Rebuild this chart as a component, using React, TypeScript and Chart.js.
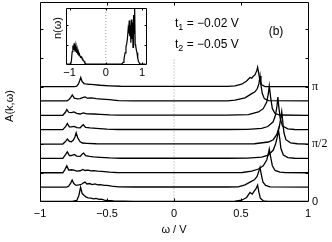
import React, { useEffect, useRef } from "react";
import { Chart, registerables } from "chart.js";
Chart.register(...registerables);

// ---- spectral functions A(k,ω), one per k (k = 0, π/8, ..., π) ----
const omegaK0 = [-1, -0.76, -0.725, -0.71, -0.697, -0.685, -0.67, -0.655, -0.64, -0.62, -0.6, -0.58, -0.56, -0.54, -0.52, -0.5, -0.45, -0.3, 0.4, 0.455, 0.505, 0.542, 0.567, 0.584, 0.6, 0.612, 0.624, 0.634, 0.644, 0.666, 0.7, 1];
const ampK0 = [0, 0, 0.07, 0.42, 1.0, 0.55, 0.42, 0.3, 0.25, 0.24, 0.18, 0.21, 0.15, 0.17, 0.1, 0.07, 0.04, 0.01, 0.01, 0.03, 0.09, 0.28, 0.63, 0.51, 0.74, 0.9, 1.14, 0.63, 0.23, 0.05, 0.01, 0];

const omegaK1 = [-1, -0.8, -0.785, -0.77, -0.76, -0.748, -0.73, -0.71, -0.69, -0.675, -0.664, -0.65, -0.63, -0.61, -0.59, -0.57, -0.55, -0.52, -0.5, -0.465, -0.415, -0.3, 0.4, 0.48, 0.53, 0.567, 0.6, 0.62, 0.634, 0.642, 0.652, 0.664, 0.684, 0.717, 1];
const ampK1 = [0, 0, 0.08, 0.3, 0.5, 0.25, 0.12, 0.15, 0.2, 0.3, 0.35, 0.22, 0.25, 0.18, 0.22, 0.16, 0.18, 0.12, 0.12, 0.07, 0.02, 0.01, 0.01, 0.02, 0.16, 0.35, 0.51, 0.74, 1.13, 1.37, 0.86, 0.35, 0.12, 0.02, 0];

const omegaK2 = [-1, -0.83, -0.815, -0.8, -0.786, -0.766, -0.746, -0.726, -0.7, -0.68, -0.664, -0.64, -0.62, -0.6, -0.57, -0.54, -0.48, -0.43, -0.3, 0.4, 0.51, 0.58, 0.63, 0.666, 0.692, 0.704, 0.711, 0.721, 0.734, 0.754, 0.79, 0.83, 1];
const ampK2 = [0, 0, 0.2, 0.48, 0.19, 0.21, 0.19, 0.12, 0.14, 0.23, 0.16, 0.18, 0.13, 0.15, 0.12, 0.1, 0.05, 0.02, 0.01, 0.01, 0.02, 0.12, 0.26, 0.49, 0.88, 1.34, 1.65, 1.11, 0.49, 0.16, 0.05, 0.01, 0];

const omegaK3 = [-1, -0.83, -0.808, -0.796, -0.781, -0.765, -0.744, -0.726, -0.7, -0.684, -0.674, -0.66, -0.63, -0.6, -0.55, -0.48, -0.4, 0.4, 0.55, 0.654, 0.704, 0.741, 0.759, 0.771, 0.779, 0.789, 0.798, 0.816, 0.85, 0.9, 1];
const ampK3 = [0, 0, 0.28, 0.46, 0.19, 0.2, 0.28, 0.16, 0.14, 0.3, 0.37, 0.19, 0.14, 0.1, 0.07, 0.03, 0.01, 0.01, 0.02, 0.09, 0.23, 0.58, 1.04, 1.5, 2.0, 1.39, 0.69, 0.23, 0.05, 0.01, 0];

const omegaK4 = [-1, -0.83, -0.808, -0.796, -0.781, -0.766, -0.751, -0.739, -0.73, -0.718, -0.7, -0.684, -0.65, -0.58, -0.5, 0.5, 0.6, 0.704, 0.741, 0.766, 0.784, 0.795, 0.804, 0.811, 0.82, 0.835, 0.87, 0.92, 1];
const ampK4 = [0, 0, 0.19, 0.35, 0.19, 0.16, 0.28, 0.49, 0.78, 0.42, 0.16, 0.07, 0.05, 0.02, 0.01, 0.01, 0.02, 0.14, 0.3, 0.65, 1.1, 1.7, 2.25, 1.6, 0.8, 0.3, 0.08, 0.02, 0];

const omegaK5 = [-1, -0.83, -0.808, -0.796, -0.781, -0.765, -0.744, -0.726, -0.7, -0.686, -0.677, -0.66, -0.627, -0.58, -0.5, -0.42, 0.4, 0.55, 0.654, 0.7, 0.74, 0.757, 0.768, 0.775, 0.782, 0.792, 0.81, 0.85, 0.9, 1];
const ampK5 = [0, 0, 0.23, 0.43, 0.19, 0.19, 0.23, 0.14, 0.13, 0.27, 0.34, 0.16, 0.12, 0.09, 0.04, 0.01, 0.01, 0.02, 0.09, 0.22, 0.55, 1.0, 1.6, 2.27, 1.6, 0.8, 0.25, 0.05, 0.01, 0];

const omegaK6 = [-1, -0.83, -0.81, -0.8, -0.786, -0.766, -0.746, -0.726, -0.7, -0.677, -0.65, -0.6, -0.55, -0.48, -0.42, 0.4, 0.555, 0.63, 0.666, 0.692, 0.704, 0.711, 0.721, 0.734, 0.754, 0.79, 1];
const ampK6 = [0, 0, 0.21, 0.4, 0.21, 0.18, 0.23, 0.14, 0.09, 0.16, 0.1, 0.09, 0.07, 0.03, 0.01, 0.01, 0.05, 0.23, 0.46, 0.93, 1.5, 2.04, 1.27, 0.46, 0.12, 0.02, 0];

const omegaK7 = [-1, -0.8, -0.785, -0.77, -0.759, -0.744, -0.72, -0.7, -0.677, -0.664, -0.647, -0.617, -0.58, -0.54, -0.48, -0.415, -0.3, 0.4, 0.455, 0.53, 0.58, 0.604, 0.622, 0.634, 0.642, 0.649, 0.659, 0.674, 0.704, 1];
const ampK7 = [0, 0, 0.08, 0.25, 0.42, 0.19, 0.14, 0.16, 0.25, 0.28, 0.19, 0.21, 0.16, 0.13, 0.09, 0.02, 0.01, 0.01, 0.05, 0.21, 0.51, 0.63, 0.86, 1.2, 1.74, 1.09, 0.51, 0.16, 0.02, 0];

const omegaK8 = [-1, -0.74, -0.726, -0.714, -0.704, -0.696, -0.686, -0.672, -0.656, -0.64, -0.62, -0.6, -0.55, -0.48, -0.4, 0.4, 0.455, 0.505, 0.542, 0.567, 0.58, 0.592, 0.604, 0.617, 0.624, 0.632, 0.642, 0.654, 0.68, 1];
const ampK8 = [0, 0, 0.02, 0.16, 0.4, 0.63, 0.35, 0.21, 0.18, 0.16, 0.15, 0.14, 0.09, 0.05, 0.02, 0.01, 0.05, 0.16, 0.39, 0.63, 0.58, 0.72, 0.81, 1.09, 1.34, 0.93, 0.39, 0.12, 0, 0];

const curveOmegas = [omegaK0, omegaK1, omegaK2, omegaK3, omegaK4, omegaK5, omegaK6, omegaK7, omegaK8];
const curveAmps = [ampK0, ampK1, ampK2, ampK3, ampK4, ampK5, ampK6, ampK7, ampK8];
const kOffsets = [0, 1, 2, 3, 4, 5, 6, 7, 8];

// ---- inset: density of states n(ω) ----
const nOmega = [-1.1, -0.97, -0.95, -0.93, -0.91, -0.895, -0.88, -0.865, -0.85, -0.835, -0.82, -0.805, -0.79, -0.775, -0.76, -0.74, -0.72, -0.7, -0.68, -0.66, -0.64, -0.62, -0.6, -0.58, -0.55, -0.5,
  0.44, 0.48, 0.5, 0.53, 0.555, 0.575, 0.595, 0.615, 0.63, 0.645, 0.66, 0.675, 0.69, 0.705, 0.72, 0.735, 0.75, 0.765, 0.78, 0.795, 0.81, 0.825, 0.84, 0.86, 0.88, 0.9, 0.93, 0.96, 1.1];
const nValue = [0, 0, 0.06, 0.22, 0.33, 0.26, 0.37, 0.28, 0.34, 0.22, 0.3, 0.2, 0.26, 0.17, 0.22, 0.15, 0.16, 0.12, 0.13, 0.1, 0.09, 0.06, 0.05, 0.02, 0.005, 0,
  0, 0.03, 0.08, 0.2, 0.31, 0.36, 0.45, 0.62, 0.55, 0.78, 0.5, 0.7, 0.38, 0.8, 0.45, 0.75, 0.3, 0.88, 0.55, 1.0, 0.35, 0.32, 0.26, 0.2, 0.1, 0.05, 0.01, 0, 0];

// ---- tick / label text ----
const xTickValues = [-1, -0.5, 0, 0.5, 1];
const yTickValues = [2, 4, 6, 8, 10, 12];
const kTickOffsets = [0, 4, 8];
const kTickLabels = ["0", "π/2", "π"];
const insetTickValues = [-1, 0, 1];
const insetYTickValues = [0.35, 0.7];
const xTitle = "ω / V";
const yTitle = "A(k,ω)";
const insetYTitle = "n(ω)";
const hopping1 = ["t", "1", " = −0.02 V"];
const hopping2 = ["t", "2", " = −0.05 V"];
const panelLabel = "(b)";

const SANS = "'Liberation Sans', Arial, Helvetica, sans-serif";
const SERIF = "'Liberation Serif', 'DejaVu Serif', serif";

const fmt = (v: number) => (v < 0 ? "\u2212" : "") + String(Math.abs(v));

function framePlugin(xTicks: number[], yTicks: number[], len: number) {
  return {
    id: "frame",
    afterDatasetsDraw(chart: any) {
      const { ctx, chartArea } = chart;
      const xs = chart.scales.x;
      const ys = chart.scales.y;
      const l = Math.round(chartArea.left) + 0.5;
      const r = Math.round(chartArea.right) + 0.5;
      const t = Math.floor(chartArea.top) + 0.5;
      const b = Math.floor(chartArea.bottom) + 0.5;
      ctx.save();
      ctx.strokeStyle = "#000";
      ctx.lineWidth = 1;
      ctx.beginPath();
      ctx.rect(l, t, r - l, b - t);
      for (const v of xTicks) {
        const px = Math.round(xs.getPixelForValue(v)) + 0.5;
        ctx.moveTo(px, b);
        ctx.lineTo(px, b - len);
        ctx.moveTo(px, t);
        ctx.lineTo(px, t + len);
      }
      for (const v of yTicks) {
        const py = Math.round(ys.getPixelForValue(v)) + 0.5;
        ctx.moveTo(l, py);
        ctx.lineTo(l + len, py);
        ctx.moveTo(r, py);
        ctx.lineTo(r - len, py);
      }
      ctx.stroke();
      ctx.restore();
    },
  };
}

function drawSubText(ctx: any, parts: string[], x: number, y: number, size: number) {
  ctx.font = `${size}px ${SANS}`;
  ctx.fillText(parts[0], x, y);
  let cx = x + ctx.measureText(parts[0]).width;
  ctx.font = `${Math.round(size * 0.72)}px ${SANS}`;
  ctx.fillText(parts[1], cx, y + 3);
  cx += ctx.measureText(parts[1]).width;
  ctx.font = `${size}px ${SANS}`;
  ctx.fillText(parts[2], cx, y);
}

const mainTextPlugin = {
  id: "mainText",
  afterDraw(chart: any) {
    const { ctx } = chart;
    const xs = chart.scales.x;
    const ys = chart.scales.y;
    ctx.save();
    ctx.fillStyle = "#000";
    ctx.textBaseline = "middle";
    ctx.textAlign = "center";
    ctx.font = `11px ${SANS}`;
    ctx.fillText(xTitle, xs.getPixelForValue(0), 230);
    ctx.save();
    ctx.translate(10, 106);
    ctx.rotate(-Math.PI / 2);
    ctx.fillText(yTitle, 0, 0);
    ctx.restore();
    ctx.textAlign = "left";
    kTickOffsets.forEach((v, i) => {
      const lab = kTickLabels[i];
      ctx.font = lab === "0" ? `11px ${SANS}` : `12px ${SERIF}`;
      ctx.fillText(lab, 312, ys.getPixelForValue(v));
    });
    ctx.textBaseline = "alphabetic";
    drawSubText(ctx, hopping1, 175, 27, 12);
    drawSubText(ctx, hopping2, 175, 47.5, 12);
    ctx.font = `12px ${SANS}`;
    ctx.textAlign = "center";
    ctx.textBaseline = "middle";
    ctx.fillText(panelLabel, 276, 32);
    ctx.restore();
  },
};

const insetPlugin = {
  id: "insetText",
  beforeDatasetsDraw(chart: any) {
    const { ctx, chartArea } = chart;
    ctx.save();
    ctx.fillStyle = "#fff";
    ctx.fillRect(chartArea.left, chartArea.top, chartArea.right - chartArea.left, chartArea.bottom - chartArea.top);
    ctx.restore();
  },
  afterDraw(chart: any) {
    const { ctx } = chart;
    ctx.save();
    ctx.fillStyle = "#000";
    ctx.textAlign = "center";
    ctx.textBaseline = "middle";
    ctx.font = `11px ${SANS}`;
    ctx.translate(12, 28);
    ctx.rotate(-Math.PI / 2);
    ctx.fillText(insetYTitle, 0, 0);
    ctx.restore();
  },
};

export default function App() {
  const mainRef = useRef<HTMLCanvasElement>(null);
  const insetRef = useRef<HTMLCanvasElement>(null);

  useEffect(() => {
    const curves = curveOmegas.map((om, i) => ({
      data: om.map((w, j) => ({ x: w, y: curveAmps[i][j] + kOffsets[i] })),
      borderColor: "#000",
      borderWidth: 1.3,
      pointRadius: 0,
      fill: false,
      tension: 0,
      order: 1,
    }));
    const zeroLine = {
      data: [{ x: 0, y: 0 }, { x: 0, y: 10 }],
      borderColor: "#9a9a9a",
      borderWidth: 1,
      borderDash: [1, 2],
      pointRadius: 0,
      fill: false,
      order: 20,
    };
    const main = new Chart(mainRef.current as HTMLCanvasElement, {
      type: "line",
      data: { datasets: [zeroLine, ...curves] as any },
      options: {
        animation: false,
        responsive: false,
        devicePixelRatio: 1,
        events: [],
        layout: { padding: { top: 2.5, right: 24, left: 0, bottom: 0 } },
        plugins: { legend: { display: false }, tooltip: { enabled: false } },
        scales: {
          x: {
            type: "linear",
            min: -1,
            max: 1,
            afterBuildTicks: (s: any) => { s.ticks = xTickValues.map((v) => ({ value: v })); },
            ticks: { callback: (v: any) => fmt(Number(v)), font: { family: SANS, size: 11 }, color: "#000", padding: 6, maxRotation: 0, autoSkip: false },
            grid: { display: false, drawTicks: false },
            border: { display: false },
            afterFit: (s: any) => { s.height = 40.5; },
          },
          y: {
            type: "linear",
            min: 0,
            max: 13.85,
            ticks: { display: false },
            grid: { display: false, drawTicks: false },
            border: { display: false },
            afterFit: (s: any) => { s.width = 40; },
          },
        },
      } as any,
      plugins: [framePlugin([-0.5, 0, 0.5], yTickValues, 3), mainTextPlugin],
    });

    const inset = new Chart(insetRef.current as HTMLCanvasElement, {
      type: "line",
      data: {
        datasets: [
          {
            data: [{ x: 0, y: 0 }, { x: 0, y: 1 }],
            borderColor: "#9a9a9a",
            borderWidth: 1,
            borderDash: [1, 2],
            pointRadius: 0,
            fill: false,
            order: 20,
          },
          {
            data: nOmega.map((w, j) => ({ x: w, y: nValue[j] })),
            borderColor: "#000",
            borderWidth: 1.2,
            pointRadius: 0,
            fill: false,
            tension: 0,
            order: 1,
          },
        ] as any,
      },
      options: {
        animation: false,
        responsive: false,
        devicePixelRatio: 1,
        events: [],
        layout: { padding: { top: 8.3, right: 6.3, left: 0, bottom: 0 } },
        plugins: { legend: { display: false }, tooltip: { enabled: false } },
        scales: {
          x: {
            type: "linear",
            min: -1.1,
            max: 1.1,
            afterBuildTicks: (s: any) => { s.ticks = insetTickValues.map((v) => ({ value: v })); },
            ticks: { callback: (v: any) => fmt(Number(v)), font: { family: SANS, size: 11 }, color: "#000", padding: 2, maxRotation: 0, autoSkip: false },
            grid: { display: false, drawTicks: false },
            border: { display: false },
            afterFit: (s: any) => { s.height = 16; },
          },
          y: {
            type: "linear",
            min: 0,
            max: 1,
            ticks: { display: false },
            grid: { display: false, drawTicks: false },
            border: { display: false },
            afterFit: (s: any) => { s.width = 20; },
          },
        },
      } as any,
      plugins: [framePlugin(insetTickValues, insetYTickValues, 2), insetPlugin],
    });

    return () => {
      main.destroy();
      inset.destroy();
    };
  }, []);

  return (
    <div style={{ position: "fixed", left: 0, top: 0, width: 332, height: 242, background: "#fff" }}>
      <canvas ref={mainRef} width={332} height={242} style={{ position: "absolute", left: 0, top: 0 }} />
      <canvas ref={insetRef} width={106} height={80} style={{ position: "absolute", left: 46, top: 0 }} />
    </div>
  );
}
